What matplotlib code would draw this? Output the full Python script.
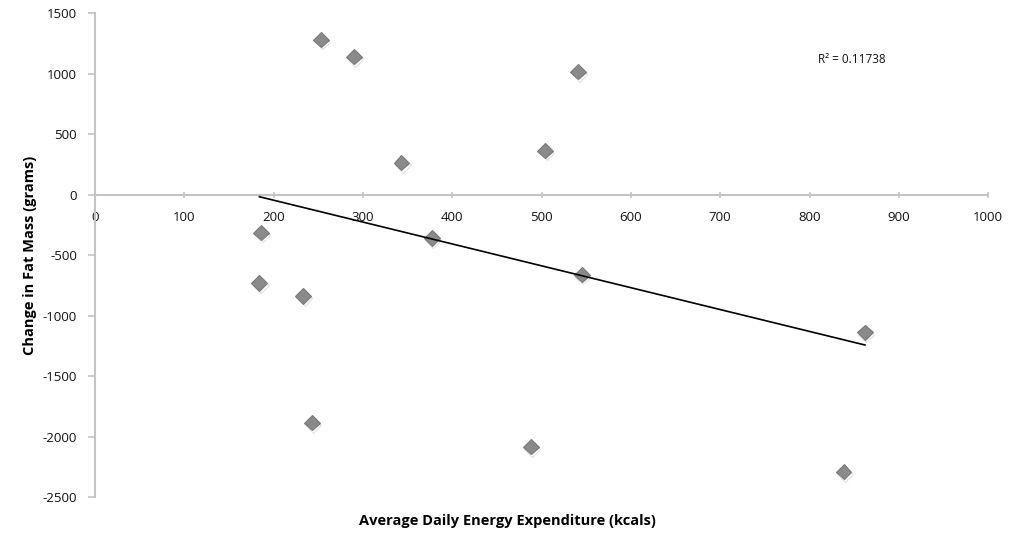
import numpy as np
import matplotlib
matplotlib.use("Agg")
import matplotlib.pyplot as plt
import matplotlib.patheffects as pe

# Datos
energia_kcal = [253, 290, 343, 541, 504, 545, 488, 862, 838, 186, 184, 233, 243, 377]
cambio_grasa_g = [1281, 1140, 264, 1016, 364, -661, -2083, -1140, -2290, -314, -730, -840, -1885, -358]
x_ticks = [0, 100, 200, 300, 400, 500, 600, 700, 800, 900, 1000]
y_ticks = [-2500, -2000, -1500, -1000, -500, 0, 500, 1000, 1500]
r2_texto = "R² = 0.11738"

plt.rcParams['font.family'] = ['Open Sans', 'DejaVu Sans']
plt.rcParams['axes.unicode_minus'] = False

fig = plt.figure(figsize=(10.15, 5.33), dpi=100)
ax = fig.add_axes([0.0936, 0.0675, 0.880, 0.908])

# Puntos
ax.plot(energia_kcal, cambio_grasa_g, 'D', ms=8, color='#8a8a8a',
        markeredgecolor='#7a7a7a', markeredgewidth=0.8, zorder=3,
        path_effects=[pe.SimpleLineShadow(offset=(1, -1.5), alpha=0.25, shadow_color='#888888'),
                      pe.Normal()])

# Línea de tendencia (mínimos cuadrados)
x = np.array(energia_kcal, dtype=float)
y = np.array(cambio_grasa_g, dtype=float)
m, b = np.polyfit(x, y, 1)
xl = np.array([x.min(), x.max()])
ax.plot(xl, m * xl + b, color='black', lw=1.2, zorder=4)

ax.text(810, 1115, r2_texto, fontsize=8.5, va='center', ha='left', color='#111111')

# Ejes estilo Excel
ax.set_xlim(0, 1000)
ax.set_ylim(-2500, 1500)
ax.set_xticks(x_ticks)
ax.set_yticks(y_ticks)
for s in ['top', 'right']:
    ax.spines[s].set_visible(False)
ax.spines['bottom'].set_position(('data', 0))
for s in ['left', 'bottom']:
    ax.spines[s].set_color('#c4c4c4')
    ax.spines[s].set_linewidth(1.5)
ax.tick_params(axis='x', direction='inout', length=5, width=1.2, color='#c4c4c4',
               labelsize=9.5, pad=9, labelcolor='#111111')
ax.tick_params(axis='y', direction='out', length=5, width=1.2, color='#c4c4c4',
               labelsize=9.5, pad=8, labelcolor='#111111')

ax.set_ylabel('Change in Fat Mass (grams)', fontsize=10.5, fontweight='bold', labelpad=4)
fig.text(0.5, 0.023, 'Average Daily Energy Expenditure (kcals)', fontsize=10.5,
         fontweight='bold', ha='center', va='center')

plt.savefig("out.png", dpi=100)
